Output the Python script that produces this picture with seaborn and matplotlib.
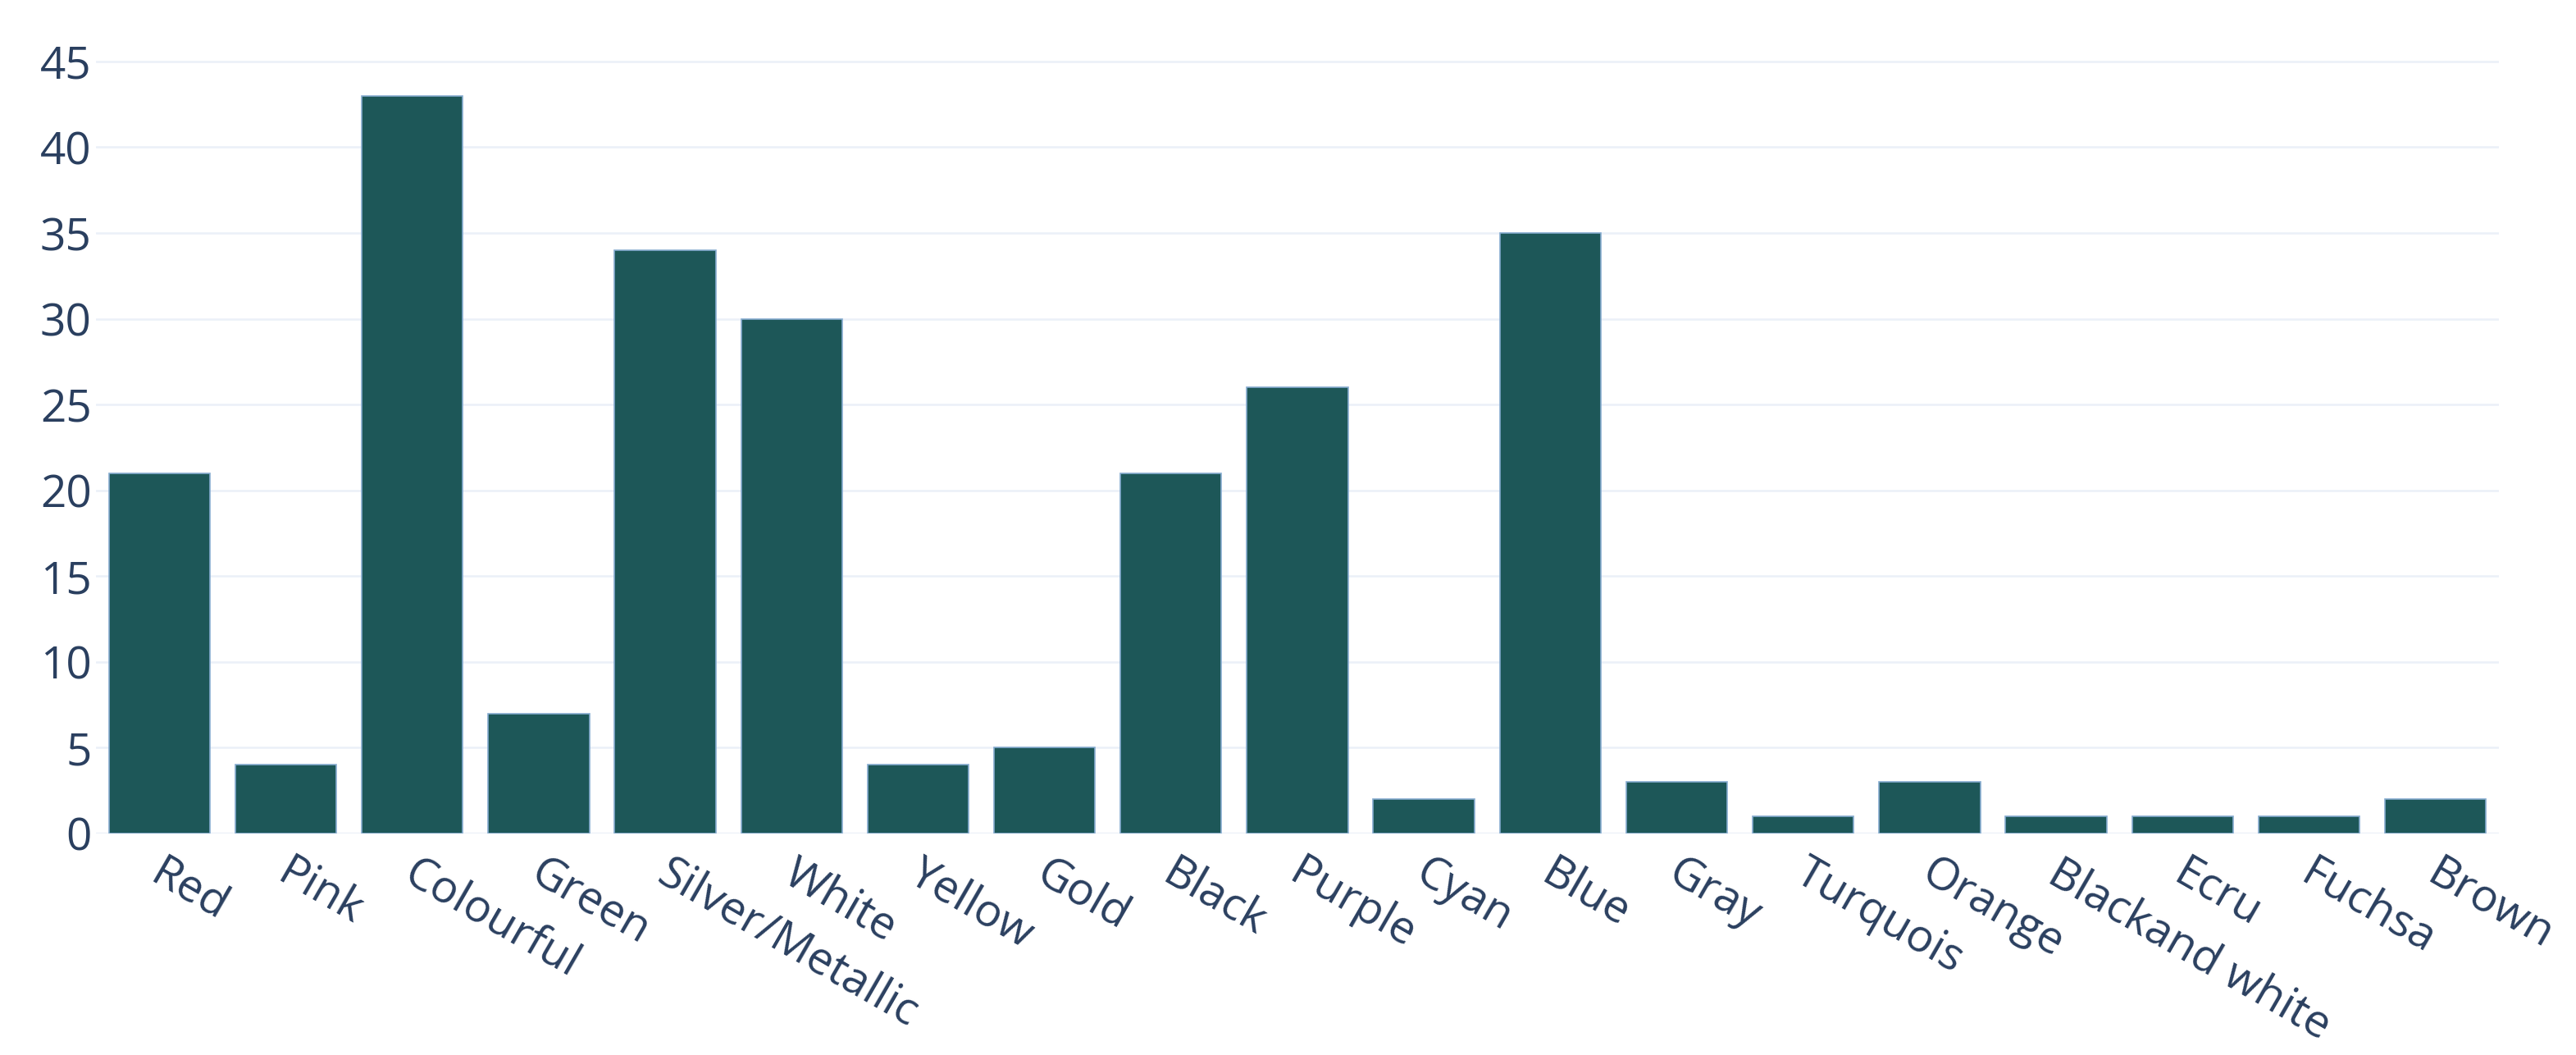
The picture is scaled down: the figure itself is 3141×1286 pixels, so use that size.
import matplotlib
matplotlib.use("Agg")
import matplotlib.pyplot as plt
import matplotlib.transforms as mtransforms
import seaborn as sns
import pandas as pd

# --------------------------------------------------------------------
# DATA
# --------------------------------------------------------------------
colours = ["Red", "Pink", "Colourful", "Green", "Silver/Metallic", "White",
           "Yellow", "Gold", "Black", "Purple", "Cyan", "Blue", "Gray",
           "Turquois", "Orange", "Blackand white", "Ecru", "Fuchsa", "Brown"]
counts = [21, 4, 43, 7, 34, 30, 4, 5, 21, 26, 2, 35, 3, 1, 3, 1, 1, 1, 2]
y_ticks = [0, 5, 10, 15, 20, 25, 30, 35, 40, 45]

df = pd.DataFrame({"colour": colours, "count": counts})

# --------------------------------------------------------------------
# STYLE
# --------------------------------------------------------------------
sns.set_style("white")
plt.rcParams["font.family"] = ["Open Sans", "DejaVu Sans"]

text_col = "#2a3f5f"
grid_col = "#ebf0f8"
bar_col = "#1d5758"

fig = plt.figure(figsize=(31.41, 12.86), dpi=100)
ax = fig.add_axes([0.0373, 0.21, 0.9327, 0.736])

sns.barplot(data=df, x="colour", y="count", color=bar_col, width=0.8,
            saturation=1, edgecolor="#86acd0", linewidth=1.2, ax=ax, zorder=3)

ax.set_ylim(0, 45.26)
ax.set_xlim(-0.5, len(colours) - 0.5)
ax.set_yticks(y_ticks)
ax.set_yticklabels([str(t) for t in y_ticks])

# gridlines
for t in y_ticks:
    ax.axhline(t, color=grid_col, lw=2.4 if t == 0 else 1.8, zorder=1)

for s in ax.spines.values():
    s.set_visible(False)

ax.set_xlabel("")
ax.set_ylabel("")
ax.tick_params(axis="both", length=0, labelsize=39.5, labelcolor=text_col)
ax.tick_params(axis="y", pad=4)
ax.tick_params(axis="x", pad=15)

# nudge rotated labels a little to the right, like plotly places them
shift = mtransforms.ScaledTranslation(8 / 100, 0, fig.dpi_scale_trans)
for lbl in ax.get_xticklabels():
    lbl.set_rotation(-30)
    lbl.set_ha("left")
    lbl.set_va("top")
    lbl.set_rotation_mode("anchor")
    lbl.set_transform(lbl.get_transform() + shift)

fig.savefig("out.png", dpi=100, facecolor="white")
